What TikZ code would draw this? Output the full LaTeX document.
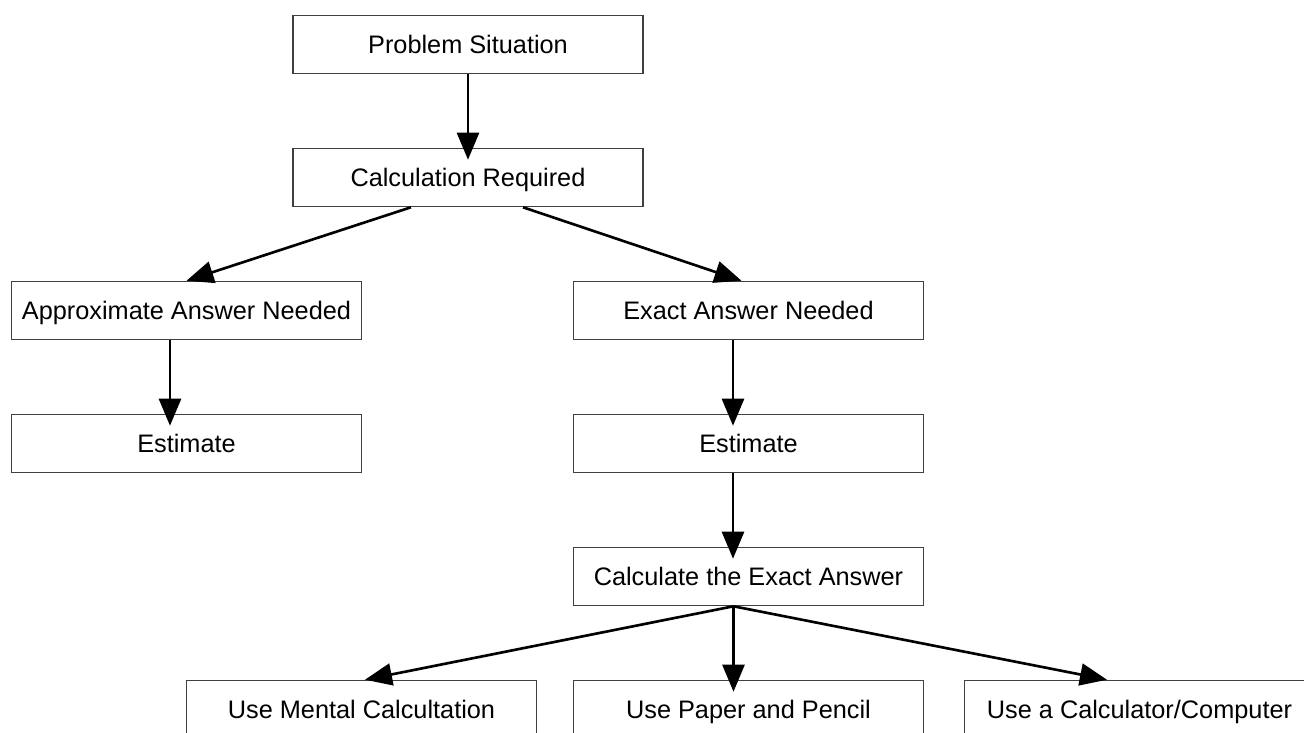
\documentclass[tikz,border=0pt]{standalone}
\usepackage{fontspec}
\setmainfont{Liberation Sans}
\usetikzlibrary{arrows.meta}
\begin{document}
\begin{tikzpicture}[node distance=2.66cm]
	\useasboundingbox (-9.36,0.89) rectangle (16.72,-13.77);
	\tikzstyle{block}=[rectangle, draw=black!75, line width=0.6pt, minimum width=7cm, minimum height=1.17cm, inner sep=0pt, text height=10pt, text depth=0pt, font=\fontsize{14.4}{17}\selectfont]
	\tikzstyle{link}=[-{Triangle[length=0.54cm,width=0.44cm]}, line width=1.5pt]
	\tikzstyle{drop}=[shorten >=-0.24cm]
	\node[block] 						(PS) {Problem Situation};
	\node[block, below of=PS] 				(CR) {Calculation Required};
	\node[block, below of=CR, xshift=-5.63cm] 		(AA) {Approximate Answer Needed};
	\node[block, below of=CR, xshift=5.61cm] 		(EA) {Exact Answer Needed};
	\node[block, below of=AA] 				(EL) {Estimate};
	\node[block, below of=EA] 				(ER) {Estimate};
	\node[block, below of=ER] 				(CE) {Calculate the Exact Answer};
	\node[block, below of=CE] 				(PP) {Use Paper and Pencil};
	\node[block, left of=PP, node distance=7.74cm] 	(MC) {Use Mental Calcultation};
	\node[block, right of=PP, node distance=7.82cm] 	(CC) {Use a Calculator/Computer};

	\begin{scope}[link]
		\draw[drop]	(PS.south) -- (CR.north);
		\draw	([xshift=-1.14cm]CR.south) -- (AA.north);
		\draw	([xshift=1.1cm]CR.south) -- ([xshift=-0.14cm]EA.north);
		\draw[drop]	([xshift=-0.33cm]AA.south) -- ([xshift=-0.33cm]EL.north);
		\draw[drop]	([xshift=-0.31cm]EA.south) -- ([xshift=-0.31cm]ER.north);
		\draw[drop]	([xshift=-0.31cm]ER.south) -- ([xshift=-0.31cm]CE.north);
		\draw[drop]	([xshift=-0.3cm]CE.south) -- ([xshift=-0.3cm]PP.north);
		\draw	([xshift=-0.3cm]CE.south) -- ([xshift=0.07cm]MC.north);
		\draw	([xshift=-0.3cm]CE.south) -- ([xshift=-0.65cm]CC.north);
	\end{scope}
\end{tikzpicture}
\end{document}
